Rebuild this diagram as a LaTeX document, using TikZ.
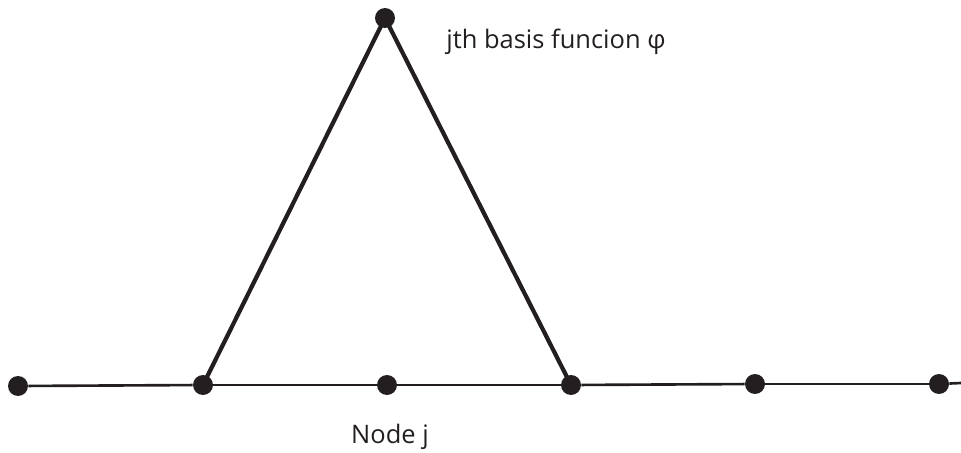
\documentclass[tikz,border=0pt]{standalone}
\usepackage{fontspec}
\setmainfont{Open Sans}
\definecolor{ink}{HTML}{231F20}

\begin{document}
\begin{tikzpicture}[x=0.02cm, y=-0.02cm,
    knot/.style={circle, fill=ink, inner sep=0pt, minimum size=0.4cm},
    axis/.style={draw=ink, line width=1.5pt},
    hat/.style={draw=ink, line width=2.4pt, line join=miter},
    lbl/.style={text=ink, font=\fontsize{14.5}{17}\selectfont, inner sep=0pt}
  ]
    \useasboundingbox (0,0) rectangle (961,453);

    % nodes along the line
    \node[knot] (n1) at (18,386) {};
    \node[knot] (n2) at (203,385) {};
    \node[knot] (n3) at (387,385) {};
    \node[knot] (n4) at (571,385) {};
    \node[knot] (n5) at (755,384) {};
    \node[knot] (n6) at (939,384) {};
    \node[knot] (top) at (385,18) {};
    \coordinate (rend) at (961,383);

    \foreach \a/\b in {n1/n2,n2/n3,n3/n4,n4/n5,n5/n6,n6/rend}
      \draw[axis] (\a) -- (\b);

    % hat function
    \draw[hat] (n2.center) -- (top.center) -- (n4.center);

    \node[lbl, anchor=west] (phi) at (446,42) {jth basis funcion φ};
    \node[lbl] (nodej) at (390,437) {Node j};
  \end{tikzpicture}
\end{document}
